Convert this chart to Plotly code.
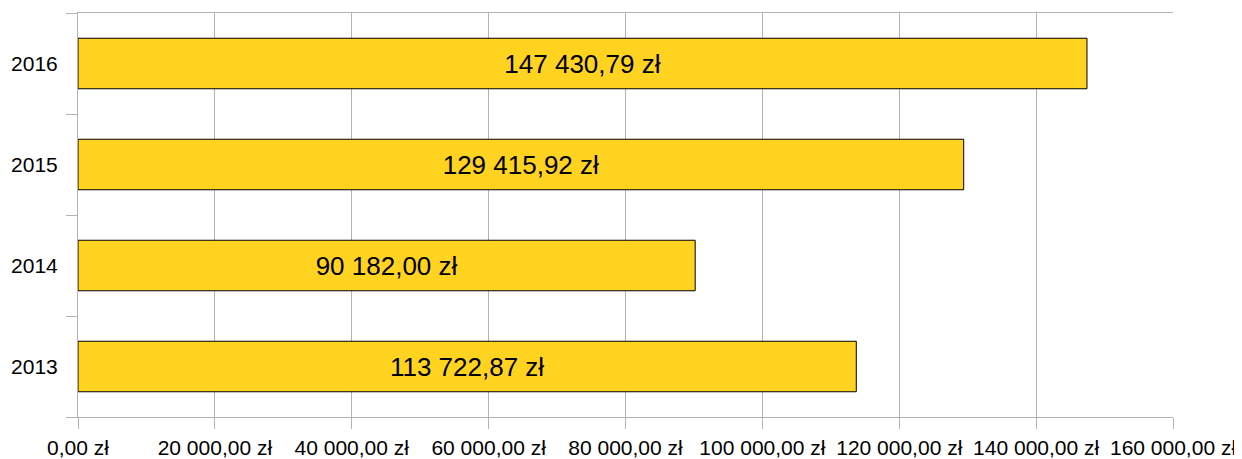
import plotly.graph_objects as go

years = ["2013", "2014", "2015", "2016"]
values = [113722.87, 90182.00, 129415.92, 147430.79]
tick_vals = [0, 20000, 40000, 60000, 80000, 100000, 120000, 140000, 160000]


def fmt_pln(v):
    s = f"{v:,.2f}"
    s = s.replace(",", " ").replace(".", ",")
    return s + " zł"


tick_text = [fmt_pln(v) for v in tick_vals]
bar_text = [fmt_pln(v) for v in values]

GRID = "#b3b3b3"
FONT = "Liberation Sans, Arial, sans-serif"

fig = go.Figure(
    go.Bar(
        x=values,
        y=years,
        orientation="h",
        marker=dict(color="#ffd320", line=dict(color="#000000", width=1)),
        text=bar_text,
        textposition="inside",
        insidetextanchor="middle",
        textangle=0,
        textfont=dict(family=FONT, size=26, color="#000000"),
        hoverinfo="skip",
    )
)

# page body has an 8px default margin, so the figure is sized/offset accordingly
fig.update_layout(
    width=1234,
    height=451,
    margin=dict(l=70, r=69, t=5, b=42, autoexpand=False),
    plot_bgcolor="white",
    paper_bgcolor="white",
    bargap=0.5,
    showlegend=False,
    font=dict(family=FONT, size=21, color="#000000"),
)

fig.update_xaxes(
    range=[0, 160000],
    tickvals=tick_vals,
    ticktext=tick_text,
    tickangle=0,
    automargin=False,
    showgrid=True,
    gridcolor=GRID,
    gridwidth=1,
    zeroline=False,
    showline=True,
    linecolor=GRID,
    linewidth=1,
    mirror=True,
    ticks="outside",
    ticklen=11,
    tickcolor=GRID,
    ticklabelstandoff=1,
    tickfont=dict(family=FONT, size=21, color="#000000"),
)

fig.update_yaxes(
    type="category",
    categoryorder="array",
    categoryarray=years,
    automargin=False,
    showgrid=False,
    zeroline=False,
    showline=True,
    linecolor=GRID,
    linewidth=1,
    ticks="outside",
    tickson="boundaries",
    ticklen=11,
    tickcolor=GRID,
    ticklabelstandoff=15,
    tickfont=dict(family=FONT, size=21, color="#000000"),
)

fig.write_html("out.html")
